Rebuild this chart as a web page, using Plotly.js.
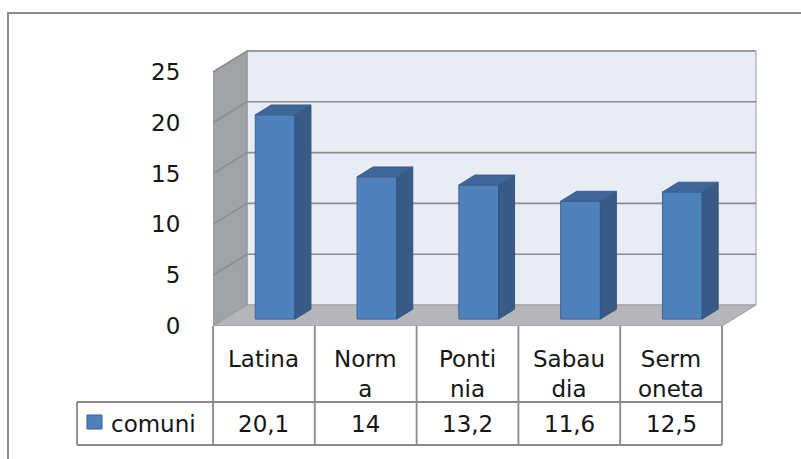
<!DOCTYPE html>
<html>
<head>
<meta charset="utf-8">
<script src="https://cdn.plot.ly/plotly-3.0.1.min.js"></script>
<style>html,body{margin:0;padding:0;background:#fff;}#chart{width:801px;height:459px;}</style>
</head>
<body>
<div id="chart"></div>
<script>
// ---- data ----
var categories = ["Latina", "Norma", "Pontinia", "Sabaudia", "Sermoneta"];
var tickLabels = ["Latina", "Norm<br>a", "Ponti<br>nia", "Sabau<br>dia", "Serm<br>oneta"];
var seriesName = "comuni";
var values = [20.1, 14, 13.2, 11.6, 12.5];
var yTicks = [0, 5, 10, 15, 20, 25];

// ---- geometry (style) ----
var W = 801, H = 459;
var M = {l: 213, r: 43, t: 50, b: 133};
var plotW = W - M.l - M.r, plotH = H - M.t - M.b;
var colPx = 101.8, unitPx = 10.16;
var xr = [-0.5, -0.5 + plotW / colPx];
var yr = [0, plotH / unitPx];
var DX = 34 / colPx, DY = 21 / unitPx;   // full depth offset in data units
var d1 = 0.33, d2 = 0.80, hw = 0.195;
var yMax = 25;
var FONT = "DejaVu Sans";
var txt = "#151515";
var gridC = "#8c8c8c";

function px2paperX(p) { return (p - M.l) / plotW; }
function px2paperY(p) { return (H - M.b - p) / plotH; }
function dataX2px(x) { return M.l + (x - xr[0]) / (xr[1] - xr[0]) * plotW; }

var traces = [];
var n = categories.length;
var x0 = -0.5, x1 = n - 0.5;

// back wall
traces.push({type: "scatter", mode: "lines", fill: "toself", fillcolor: "#e8ecf5",
  line: {color: "#9a9a9a", width: 1},
  x: [x0 + DX, x1 + DX, x1 + DX, x0 + DX, x0 + DX],
  y: [DY, DY, yMax + DY, yMax + DY, DY], hoverinfo: "skip", showlegend: false});
// side wall
traces.push({type: "scatter", mode: "lines", fill: "toself", fillcolor: "#a0a3a7",
  line: {color: "#909396", width: 1},
  x: [x0, x0 + DX, x0 + DX, x0, x0],
  y: [0, DY, yMax + DY, yMax, 0], hoverinfo: "skip", showlegend: false});
// floor
traces.push({type: "scatter", mode: "lines", fill: "toself", fillcolor: "#b4b6b9",
  line: {color: "#9a9c9f", width: 1},
  x: [x0, x1, x1 + DX, x0 + DX, x0],
  y: [0, 0, DY, DY, 0], hoverinfo: "skip", showlegend: false});
// gridlines (back + side walls)
var gx = [], gy = [];
yTicks.forEach(function (t) {
  if (t === 0) return;
  gx.push(x0, x0 + DX, x1 + DX, null);
  gy.push(t, t + DY, t + DY, null);
});
traces.push({type: "scatter", mode: "lines", x: gx, y: gy,
  line: {color: gridC, width: 1.6}, hoverinfo: "skip", showlegend: false});

// bars: front, side & top faces
values.forEach(function (v, i) {
  var xl = i + d1 * DX - hw, xrr = i + d1 * DX + hw;
  var ex = (d2 - d1) * DX, ey = (d2 - d1) * DY;
  var b = d1 * DY;
  traces.push({type: "scatter", mode: "lines", fill: "toself", fillcolor: "#4f81bd", name: seriesName,
    line: {color: "#3b6494", width: 1},
    x: [xl, xrr, xrr, xl, xl],
    y: [b, b, v + b, v + b, b], hoverinfo: "skip", showlegend: false});
  traces.push({type: "scatter", mode: "lines", fill: "toself", fillcolor: "#375a86",
    line: {color: "#33547d", width: 1},
    x: [xrr, xrr + ex, xrr + ex, xrr, xrr],
    y: [b, b + ey, v + b + ey, v + b, b], hoverinfo: "skip", showlegend: false});
  traces.push({type: "scatter", mode: "lines", fill: "toself", fillcolor: "#3e6699",
    line: {color: "#3a5f8e", width: 1},
    x: [xl, xrr, xrr + ex, xl + ex, xl],
    y: [v + b, v + b, v + b + ey, v + b + ey, v + b], hoverinfo: "skip", showlegend: false});
});

// ---- table ----
var shapes = [], annotations = [];
var lineC = "#8a8a8a";
var rowTop = 326, rowMid = 402, rowBot = 445, legendLeft = 77;
function hline(xa, xb, y) {
  shapes.push({type: "line", xref: "paper", yref: "paper", x0: px2paperX(xa), x1: px2paperX(xb),
    y0: px2paperY(y), y1: px2paperY(y), line: {color: lineC, width: 1.8}});
}
function vline(x, ya, yb) {
  shapes.push({type: "line", xref: "paper", yref: "paper", x0: px2paperX(x), x1: px2paperX(x),
    y0: px2paperY(ya), y1: px2paperY(yb), line: {color: lineC, width: 1.8}});
}
for (var i = 0; i <= n; i++) {
  var xp = dataX2px(i - 0.5);
  vline(xp, rowTop, rowBot);
}
var tableRight = dataX2px(n - 0.5);
hline(legendLeft, tableRight, rowMid);
hline(legendLeft, tableRight, rowBot);
vline(legendLeft, rowMid, rowBot);

categories.forEach(function (c, i) {
  var cx = px2paperX(dataX2px(i));
  annotations.push({xref: "paper", yref: "paper", x: cx, y: px2paperY(344), xanchor: "center", yanchor: "top",
    text: tickLabels[i], showarrow: false, font: {family: FONT, size: 23, color: txt}});
  annotations.push({xref: "paper", yref: "paper", x: cx, y: px2paperY(424), xanchor: "center", yanchor: "middle",
    text: String(values[i]).replace(".", ","), showarrow: false, font: {family: FONT, size: 23, color: txt}});
});
// legend key
shapes.push({type: "rect", xref: "paper", yref: "paper", x0: px2paperX(87), x1: px2paperX(102),
  y0: px2paperY(415), y1: px2paperY(429), fillcolor: "#4f81bd", line: {color: "#385d8a", width: 1}});
annotations.push({xref: "paper", yref: "paper", x: px2paperX(109), y: px2paperY(424), xanchor: "left", yanchor: "middle",
  text: seriesName, showarrow: false, font: {family: FONT, size: 23, color: txt}});

// outer border
shapes.push({type: "rect", xref: "paper", yref: "paper", x0: px2paperX(8), x1: px2paperX(820),
  y0: px2paperY(13), y1: px2paperY(480), fillcolor: "rgba(0,0,0,0)", line: {color: "#8c8c8c", width: 2}});

var layout = {
  width: W, height: H,
  margin: M,
  paper_bgcolor: "#ffffff", plot_bgcolor: "rgba(0,0,0,0)",
  showlegend: false,
  xaxis: {range: xr, showgrid: false, zeroline: false, showticklabels: false, showline: false, ticks: "", fixedrange: true},
  yaxis: {range: yr, tickvals: yTicks, ticktext: yTicks.map(String), showgrid: false, zeroline: false, showline: false,
    ticks: "outside", ticklen: 27, tickcolor: "rgba(0,0,0,0)",
    tickfont: {family: FONT, size: 23, color: txt}, fixedrange: true},
  shapes: shapes, annotations: annotations
};
Plotly.newPlot("chart", traces, layout, {displayModeBar: false, staticPlot: true});
</script>
</body>
</html>
